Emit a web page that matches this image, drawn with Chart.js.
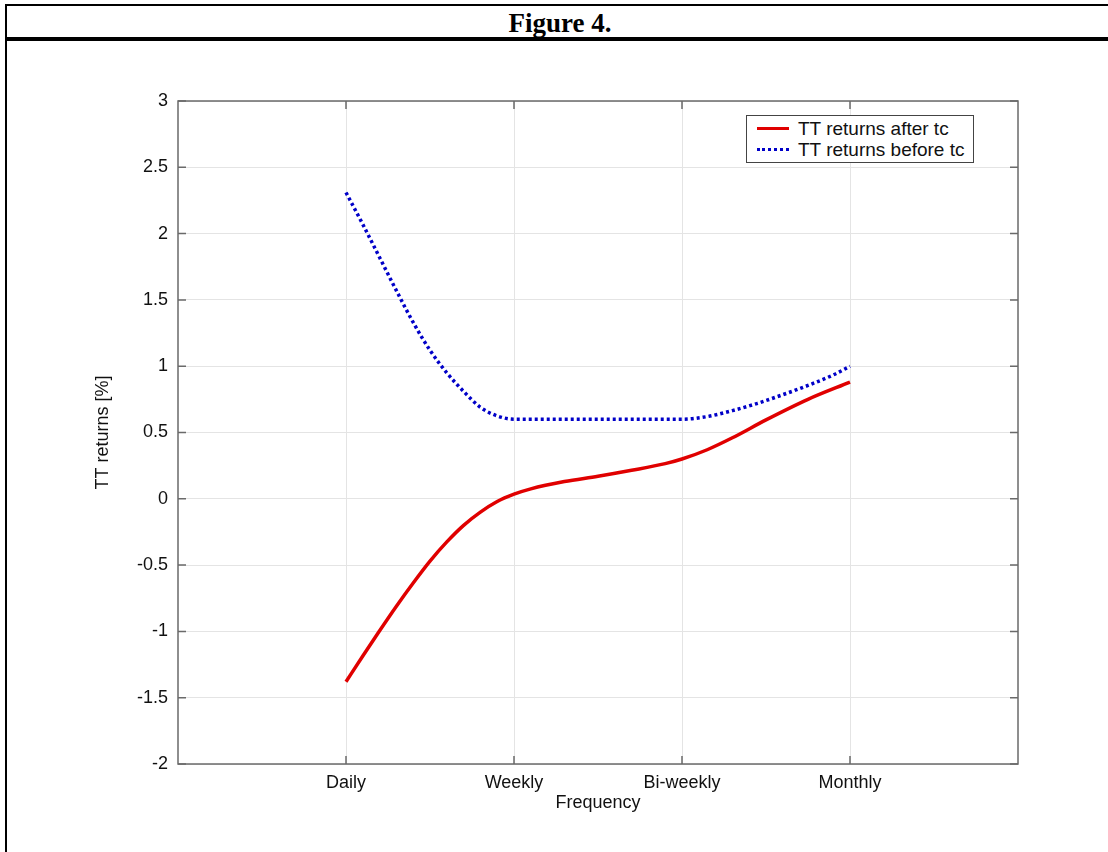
<!DOCTYPE html>
<html>
<head>
<meta charset="utf-8">
<script src="https://cdn.jsdelivr.net/npm/chart.js@4/dist/chart.umd.min.js"></script>
<style>
  html, body { margin: 0; padding: 0; background: #fff; }
  body { width: 1108px; height: 852px; position: relative; overflow: hidden; font-family: 'Liberation Sans', Arial, sans-serif; }
  .frame-top { position: absolute; left: 5px; right: 0; top: 4px; height: 2px; background: #000; }
  .frame-mid { position: absolute; left: 5px; right: 0; top: 37px; height: 4px; background: #000; }
  .frame-left { position: absolute; left: 5px; top: 4px; bottom: 0; width: 2px; background: #000; }
  .fig-title { position: absolute; left: 12px; right: 0; top: 8px; text-align: center; font: bold 27px 'Liberation Serif', 'Times New Roman', serif; color: #000; }
  #chartBox { position: absolute; left: 80px; top: 60px; }
  .legend { position: absolute; left: 746px; top: 115px; width: 226px; height: 46px; border: 1px solid #444; background: #fff; }
  .legend-item { position: absolute; left: 10px; height: 21px; display: flex; align-items: center; font: 19px 'Liberation Sans', Arial, sans-serif; color: #111; }
  .legend-swatch { width: 32px; margin-right: 9px; }
</style>
</head>
<body>
<div class="frame-top"></div>
<div class="frame-mid"></div>
<div class="frame-left"></div>
<div class="fig-title">Figure 4.</div>
<div id="chartBox"><canvas id="chart" width="980" height="790"></canvas></div>
<div class="legend" id="legend"></div>
<script>
const freqLabels = ['Daily', 'Weekly', 'Bi-weekly', 'Monthly'];
const freqPos = [1, 2, 3, 4];

const afterX = [1, 1.1, 1.2, 1.3, 1.4, 1.5, 1.6, 1.7, 1.8, 1.9, 2.0, 2.1, 2.3, 2.5, 2.7, 2.9, 3.0, 3.15, 3.3, 3.5, 3.75, 4.0];
const afterY = [-1.38, -1.185, -0.995, -0.81, -0.635, -0.47, -0.325, -0.20, -0.10, -0.02, 0.035, 0.075, 0.13, 0.17, 0.215, 0.265, 0.30, 0.37, 0.46, 0.595, 0.75, 0.88];

const beforeX = [1, 1.1, 1.2, 1.3, 1.4, 1.5, 1.6, 1.7, 1.8, 1.9, 2.0, 2.5, 3.0, 3.15, 3.3, 3.45, 3.6, 3.75, 3.9, 4.0];
const beforeY = [2.31, 2.07, 1.82, 1.57, 1.33, 1.12, 0.95, 0.81, 0.69, 0.625, 0.60, 0.60, 0.60, 0.62, 0.665, 0.72, 0.785, 0.855, 0.934, 1.0];

const series = [
  { label: 'TT returns after tc', xs: afterX, ys: afterY, color: '#e00000', dash: [] },
  { label: 'TT returns before tc', xs: beforeX, ys: beforeY, color: '#0000c8', dash: [3, 3] }
];

const tickFont = { family: "'Liberation Sans', Arial, sans-serif", size: 18 };

// box round the plot and MATLAB style inward ticks
const frameBox = {
  id: 'frameBox',
  afterDraw(chart) {
    const { ctx, chartArea: a, scales: { x, y } } = chart;
    ctx.save();
    ctx.strokeStyle = '#6a6a6a';
    ctx.lineWidth = 1.5;
    ctx.strokeRect(a.left, a.top, a.right - a.left, a.bottom - a.top);
    ctx.beginPath();
    y.ticks.forEach((t) => {
      const py = y.getPixelForValue(t.value);
      ctx.moveTo(a.left, py); ctx.lineTo(a.left + 8, py);
      ctx.moveTo(a.right, py); ctx.lineTo(a.right - 8, py);
    });
    x.ticks.forEach((t) => {
      const px = x.getPixelForValue(t.value);
      ctx.moveTo(px, a.bottom); ctx.lineTo(px, a.bottom - 8);
      ctx.moveTo(px, a.top); ctx.lineTo(px, a.top + 8);
    });
    ctx.stroke();
    ctx.restore();
  }
};

new Chart(document.getElementById('chart'), {
  type: 'line',
  data: {
    datasets: series.map((s) => ({
      label: s.label,
      data: s.xs.map((v, i) => ({ x: v, y: s.ys[i] })),
      borderColor: s.color,
      borderWidth: 3.5,
      borderDash: s.dash,
      pointRadius: 0,
      cubicInterpolationMode: 'monotone',
      fill: false
    }))
  },
  options: {
    responsive: false,
    animation: false,
    devicePixelRatio: 1,
    layout: { padding: { top: 41, right: 42, left: 0, bottom: 0 } },
    plugins: { legend: { display: false }, tooltip: { enabled: false } },
    scales: {
      x: {
        type: 'linear',
        min: 0,
        max: 5,
        afterBuildTicks: (scale) => { scale.ticks = freqPos.map((v) => ({ value: v })); },
        afterFit: (scale) => { scale.height = 86; },
        grid: { color: '#e4e4e4', lineWidth: 1, drawTicks: false },
        border: { display: false },
        ticks: {
          color: '#111',
          font: tickFont,
          padding: 8,
          maxRotation: 0,
          callback: (value) => freqLabels[freqPos.indexOf(value)]
        },
        title: { display: true, text: 'Frequency', color: '#111', font: tickFont, padding: { top: 0, bottom: 36 } }
      },
      y: {
        min: -2,
        max: 3,
        afterFit: (scale) => { scale.width = 98; },
        grid: { color: '#e4e4e4', lineWidth: 1, drawTicks: false },
        border: { display: false },
        ticks: {
          stepSize: 0.5,
          color: '#111',
          font: tickFont,
          padding: 10,
          callback: (value) => String(Math.round(value * 10) / 10)
        },
        title: { display: true, text: 'TT returns [%]', color: '#111', font: tickFont, padding: { top: 12, bottom: 0 } }
      }
    }
  },
  plugins: [frameBox]
});

document.getElementById('legend').innerHTML = series.map((s, i) => `
  <div class="legend-item" style="top:${2 + i * 21}px">
    <span class="legend-swatch" style="border-top:3px ${s.dash.length ? 'dotted' : 'solid'} ${s.color}"></span>
    <span>${s.label}</span>
  </div>
`).join('');
</script>
</body>
</html>
